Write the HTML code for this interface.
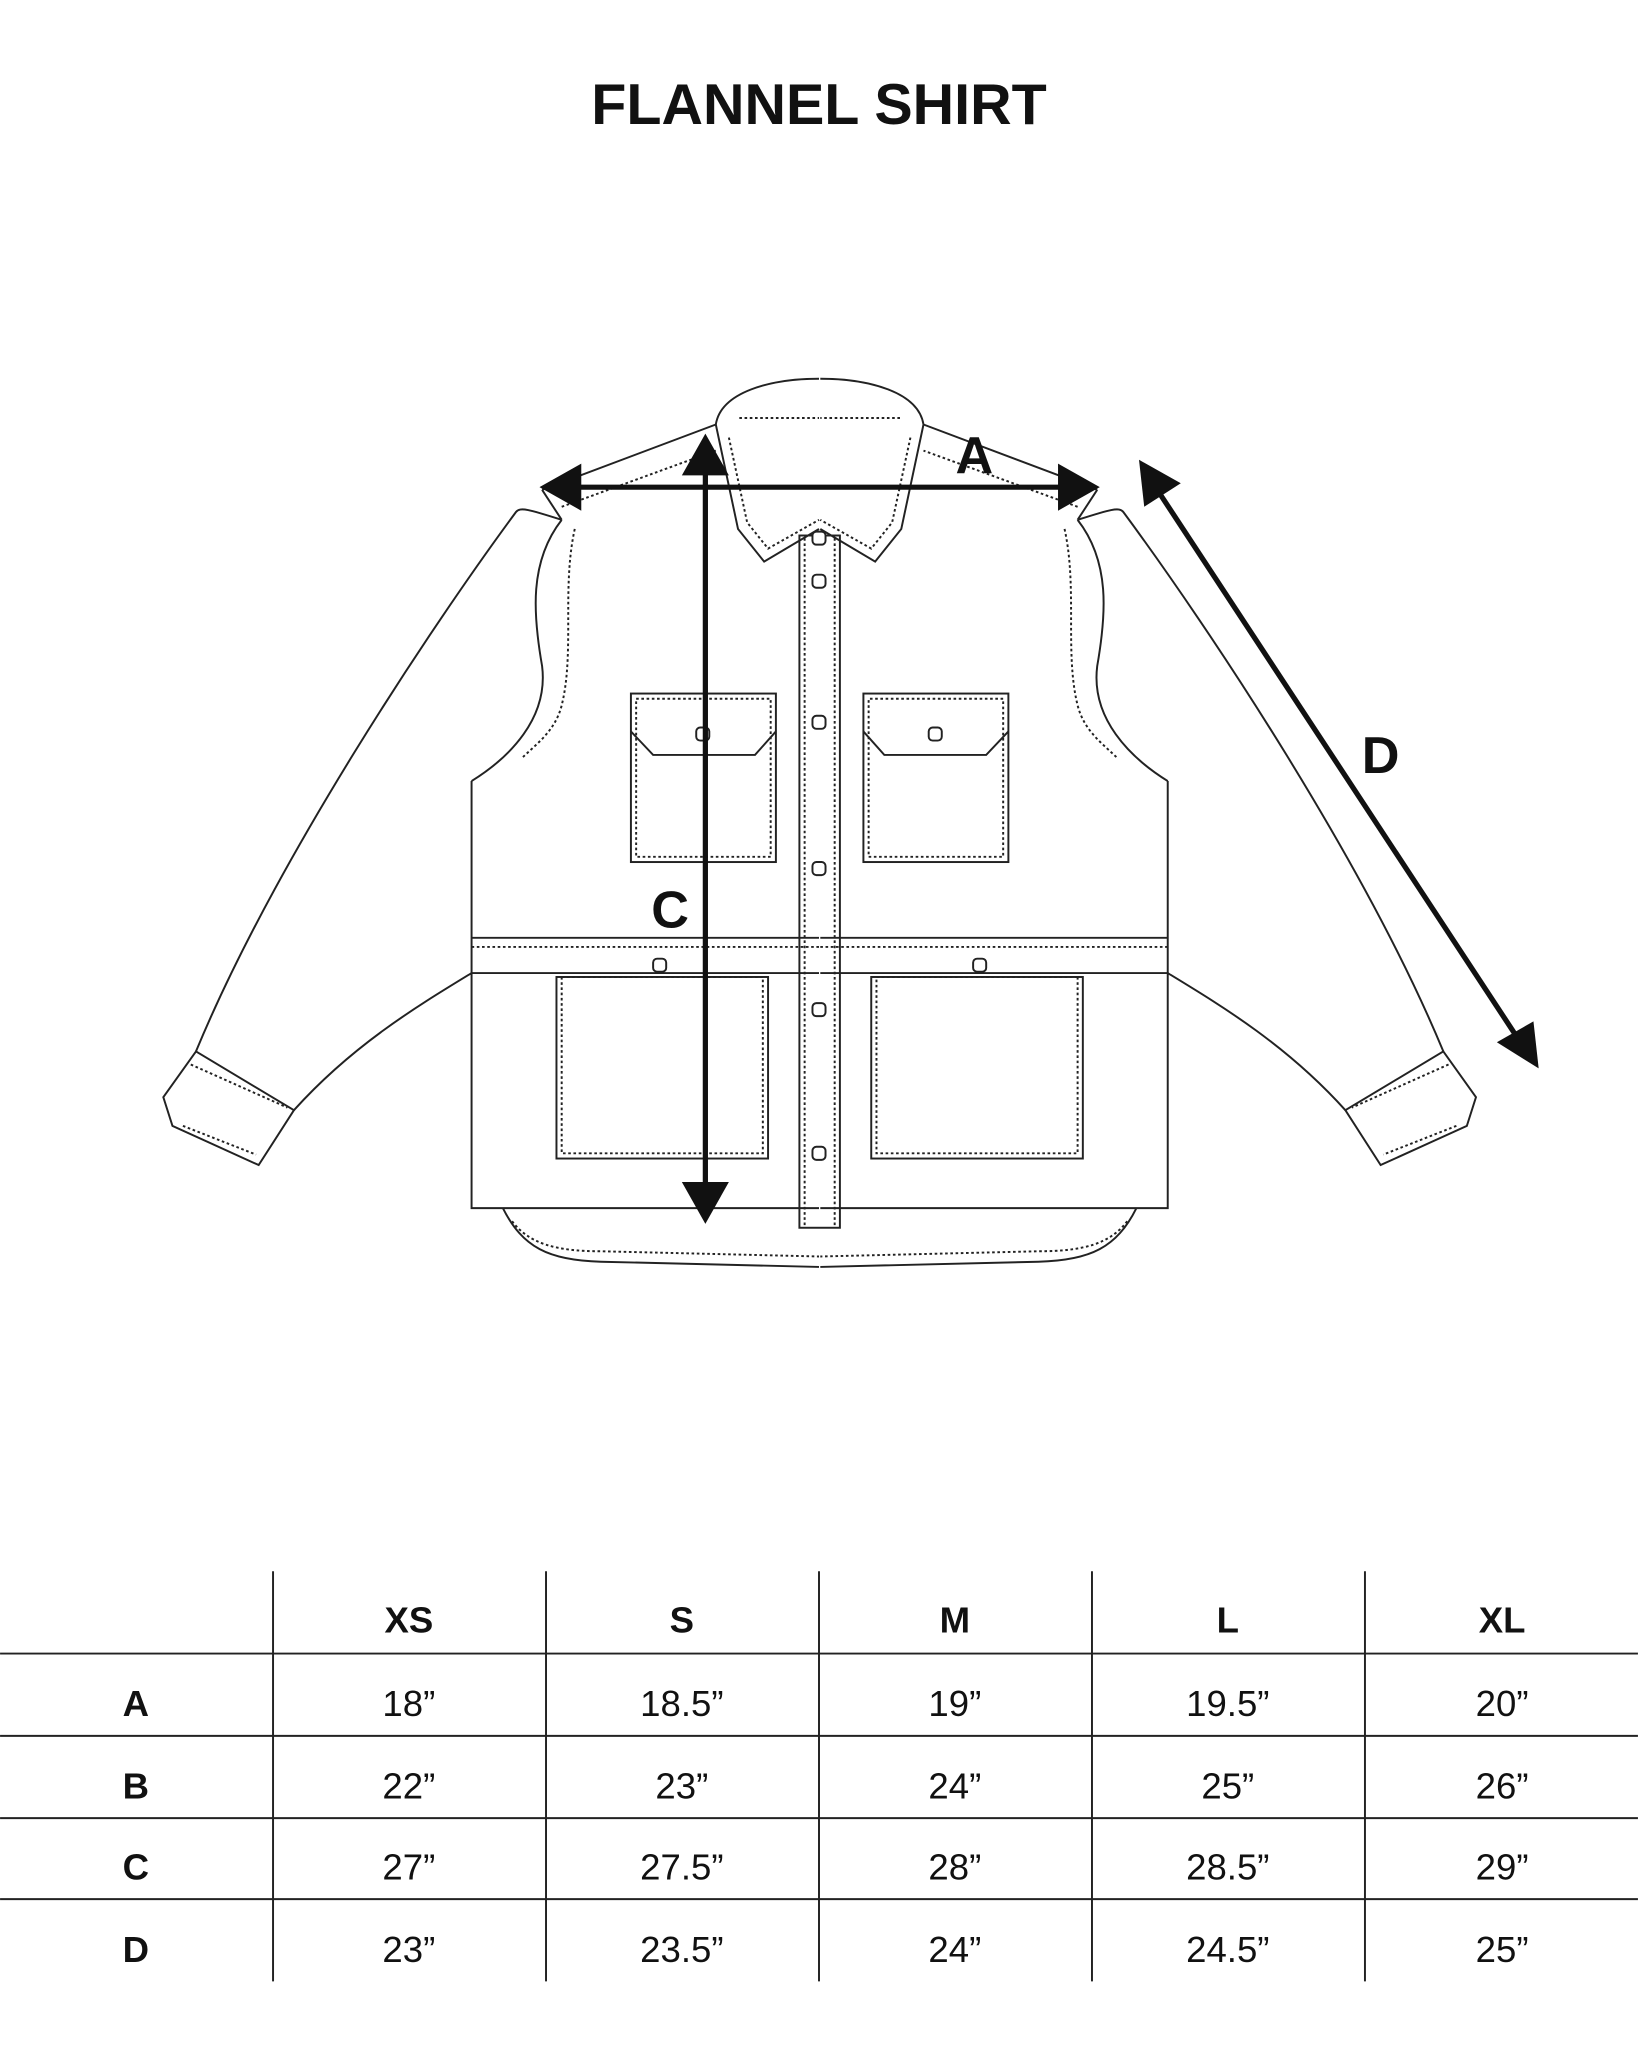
<!DOCTYPE html>
<html><head><meta charset="utf-8"><style>
html,body{margin:0;padding:0;background:#fff}
svg{display:block}
text{font-family:"Liberation Sans",Arial,sans-serif;fill:#111}
</style></head><body>
<svg width="1638" height="2048" viewBox="0 0 1254 1568" xmlns="http://www.w3.org/2000/svg">
<rect width="1254" height="1568" fill="#fff"/>
<text x="627" y="95" font-size="44" font-weight="bold" text-anchor="middle">FLANNEL SHIRT</text>
<defs>
<g id="half" fill="none" stroke="#222" stroke-width="1.5">
  <!-- sleeve -->
  <path d="M430,398 C405,390 398,388 395,392 C330,480 210,660 150,805"/>
  <path d="M361,745 C320,770 270,800 225,850"/>
  <path d="M150,805 L125,840 L132,862 L198,892 L225,850 Z"/>
  <path d="M146,815 L220,848" stroke-dasharray="2,2"/>
  <path d="M140,862 L196,884" stroke-dasharray="2,2"/>
  <!-- armhole -->
  <path d="M430,398 C405,430 408,470 415,510 C420,550 390,580 361,598"/>
  <path d="M440,405 C430,450 440,500 430,540 C425,560 410,570 400,580" stroke-dasharray="2,2"/>
  <!-- shoulder -->
  <path d="M415,375 L548,325"/>
  <path d="M430,398 L415,375"/>
  <path d="M430,388 L548,345" stroke-dasharray="2,2"/>
  <!-- body side -->
  <path d="M361,598 L361,925 L627,925"/>
  <!-- hem -->
  <path d="M385,925 C400,955 420,965 460,966 L627,970"/>
  <path d="M392,935 C405,952 425,958 460,958 L627,962" stroke-dasharray="2,2"/>
  <!-- collar -->
  <path d="M548,325 C552,300 590,290 627,290"/>
  <path d="M566,320 L627,320" stroke-dasharray="2,2"/>
  <path d="M548,325 L565,405 L585,430 L627,405"/>
  <path d="M558,335 L572,400 L588,420 L627,398" stroke-dasharray="2,2"/>
  <!-- waist seam -->
  <path d="M361,718 L627,718 M361,745 L627,745"/>
  <path d="M361,725 L627,725" stroke-dasharray="2,2"/>
  <!-- chest pocket -->
  <rect x="483" y="531" width="111" height="129"/>
  <rect x="487" y="535" width="103" height="121" stroke-dasharray="2,2"/>
  <path d="M483,560 L500,578 L578,578 L594,560"/>
  <!-- lower pocket -->
  <rect x="426" y="748" width="162" height="139"/>
  <rect x="430" y="748" width="154" height="135" stroke-dasharray="2,2"/>
</g>
</defs>
<use href="#half"/>
<use href="#half" transform="translate(1255,0) scale(-1,1)"/>
<g fill="none" stroke="#222" stroke-width="1.5">
  <rect x="612" y="410" width="31" height="530"/>
  <path d="M616,412 L616,938 M639,412 L639,938" stroke-dasharray="2,2"/>
  <g fill="#fff">
    <rect x="622" y="407" width="10" height="10" rx="3"/>
    <rect x="622" y="440" width="10" height="10" rx="3"/>
    <rect x="622" y="548" width="10" height="10" rx="3"/>
    <rect x="622" y="660" width="10" height="10" rx="3"/>
    <rect x="622" y="768" width="10" height="10" rx="3"/>
    <rect x="622" y="878" width="10" height="10" rx="3"/>
    <rect x="533" y="557" width="10" height="10" rx="3"/>
    <rect x="711" y="557" width="10" height="10" rx="3"/>
    <rect x="500" y="734" width="10" height="10" rx="3"/>
    <rect x="745" y="734" width="10" height="10" rx="3"/>
  </g>
</g>
<!-- arrows -->
<g stroke="#111" stroke-width="4" fill="#111">
  <line x1="440" y1="373" x2="815" y2="373"/>
  <line x1="540" y1="358" x2="540" y2="910"/>
  <line x1="884" y1="372" x2="1164" y2="798"/>
</g>
<g fill="#111">
  <polygon points="413,373 445,355 445,391"/>
  <polygon points="842,373 810,355 810,391"/>
  <polygon points="540,332 522,364 558,364"/>
  <polygon points="540,937 522,905 558,905"/>
  <polygon points="872,352 876,388 904,370"/>
  <polygon points="1178,818 1146,798 1174,782"/>
</g>
<g font-size="40" font-weight="bold" text-anchor="middle">
  <text x="746" y="362">A</text>
  <text x="513" y="710">C</text>
  <text x="1057" y="592">D</text>
</g>
<!-- table -->
<g stroke="#222" stroke-width="1.5">
  <line x1="209" y1="1203" x2="209" y2="1517"/>
  <line x1="418" y1="1203" x2="418" y2="1517"/>
  <line x1="627" y1="1203" x2="627" y2="1517"/>
  <line x1="836" y1="1203" x2="836" y2="1517"/>
  <line x1="1045" y1="1203" x2="1045" y2="1517"/>
  <line x1="0" y1="1266" x2="1254" y2="1266"/>
  <line x1="0" y1="1329" x2="1254" y2="1329"/>
  <line x1="0" y1="1392" x2="1254" y2="1392"/>
  <line x1="0" y1="1454" x2="1254" y2="1454"/>
</g>
<g font-size="28" text-anchor="middle">
  <g font-weight="bold">
    <text x="313" y="1250">XS</text><text x="522" y="1250">S</text><text x="731" y="1250">M</text><text x="940" y="1250">L</text><text x="1150" y="1250">XL</text>
    <text x="104" y="1314">A</text><text x="104" y="1377">B</text><text x="104" y="1439">C</text><text x="104" y="1502">D</text>
  </g>
  <text x="313" y="1314">18”</text><text x="522" y="1314">18.5”</text><text x="731" y="1314">19”</text><text x="940" y="1314">19.5”</text><text x="1150" y="1314">20”</text>
  <text x="313" y="1377">22”</text><text x="522" y="1377">23”</text><text x="731" y="1377">24”</text><text x="940" y="1377">25”</text><text x="1150" y="1377">26”</text>
  <text x="313" y="1439">27”</text><text x="522" y="1439">27.5”</text><text x="731" y="1439">28”</text><text x="940" y="1439">28.5”</text><text x="1150" y="1439">29”</text>
  <text x="313" y="1502">23”</text><text x="522" y="1502">23.5”</text><text x="731" y="1502">24”</text><text x="940" y="1502">24.5”</text><text x="1150" y="1502">25”</text>
</g>
</svg>
</body></html>
